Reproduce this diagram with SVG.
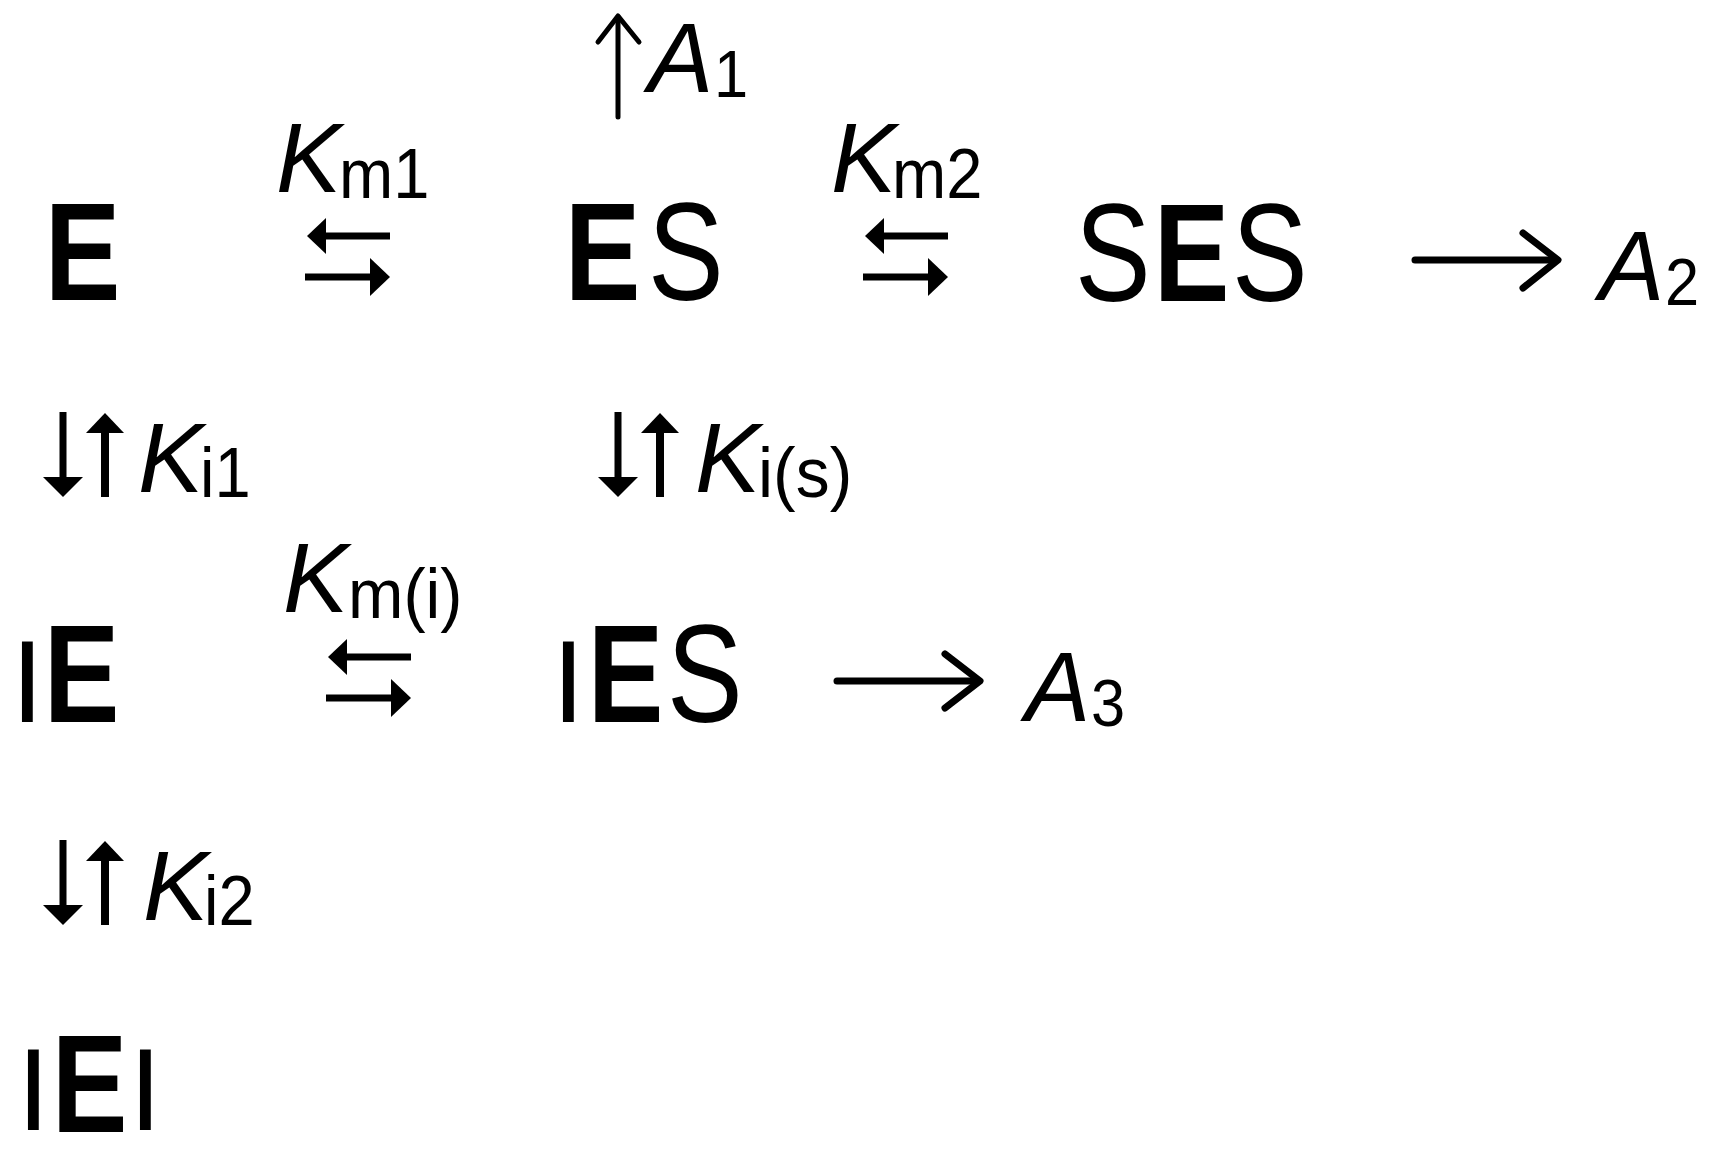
<svg xmlns="http://www.w3.org/2000/svg" xmlns:xlink="http://www.w3.org/1999/xlink" width="1714" height="1157" viewBox="0 0 1714 1157">
<style>
.bE{font-family:"Liberation Sans",Arial,sans-serif;font-weight:bold;font-size:140px;fill:#000}
.rS{font-family:"Liberation Sans",Arial,sans-serif;font-size:140px;fill:#000}
.rI{font-family:"Liberation Sans",Arial,sans-serif;font-size:116px;fill:#000}
.lab{font-family:"Liberation Sans",Arial,sans-serif;font-style:italic;font-size:98px;fill:#000}
.sub{font-family:"Liberation Sans",Arial,sans-serif;font-size:70px;fill:#000}
.sub2{font-family:"Liberation Sans",Arial,sans-serif;font-size:66px;fill:#000}
.open{fill:none;stroke:#000;stroke-width:7;stroke-linecap:round;stroke-linejoin:round}
.thin{fill:none;stroke:#000;stroke-width:5;stroke-linecap:round;stroke-linejoin:round}
</style>
<defs>
<g id="eq">
<rect x="16" y="-3.5" width="67" height="7" fill="#000"/>
<polygon points="0,0 19,-18 19,18" fill="#000"/>
<rect x="-2" y="37.5" width="67" height="7" fill="#000"/>
<polygon points="83,41 63,22 63,60" fill="#000"/>
</g>
<g id="vud">
<rect x="-3.5" y="0" width="7" height="67" fill="#000"/>
<polygon points="-20,65 20,65 0,85" fill="#000"/>
<rect x="38" y="19" width="8" height="66" fill="#000"/>
<polygon points="42,1 23,21 61,21" fill="#000"/>
</g>
</defs>
<rect width="1714" height="1157" fill="#fff"/>

<g id="node-E">
<text class="bE" transform="translate(44.7,300) scale(0.81,1)">E</text>
</g>
<g id="node-ES">
<text class="bE" transform="translate(564.7,300) scale(0.81,1)">E</text>
<text class="rS" transform="translate(648,300) scale(0.81,1)">S</text>
</g>
<g id="node-SES">
<text class="rS" transform="translate(1075,301) scale(0.81,1)">S</text>
<text class="bE" transform="translate(1153.7,301) scale(0.81,1)">E</text>
<text class="rS" transform="translate(1232,301) scale(0.81,1)">S</text>
</g>
<g id="node-A1">
<text class="lab" x="648" y="92">A</text>
<text class="sub2" transform="translate(714,97) scale(0.93,1)">1</text>
</g>
<g id="node-A2">
<text class="lab" x="1599" y="300">A</text>
<text class="sub2" transform="translate(1665,305) scale(0.93,1)">2</text>
</g>
<g id="node-IE">
<text class="rI" x="11.2" y="722">I</text>
<text class="bE" transform="translate(43.7,722) scale(0.81,1)">E</text>
</g>
<g id="node-IES">
<text class="rI" x="552.2" y="722">I</text>
<text class="bE" transform="translate(587.7,722) scale(0.81,1)">E</text>
<text class="rS" transform="translate(667,722) scale(0.81,1)">S</text>
</g>
<g id="node-A3">
<text class="lab" x="1025" y="721">A</text>
<text class="sub2" transform="translate(1091,726) scale(0.93,1)">3</text>
</g>
<g id="node-IEI">
<text class="rI" x="17.2" y="1130">I</text>
<text class="bE" transform="translate(51.7,1132) scale(0.81,1)">E</text>
<text class="rI" x="129.2" y="1130">I</text>
</g>

<g id="connectors">
<use xlink:href="#eq" href="#eq" transform="translate(307,236)"/>
<use xlink:href="#eq" href="#eq" transform="translate(865,236)"/>
<use xlink:href="#eq" href="#eq" transform="translate(328,657)"/>
<use xlink:href="#vud" href="#vud" transform="translate(63,412)"/>
<use xlink:href="#vud" href="#vud" transform="translate(618,412)"/>
<use xlink:href="#vud" href="#vud" transform="translate(63,840)"/>
<g class="thin">
<line x1="618" y1="117" x2="618" y2="17"/>
<polyline points="598,42 618,16 639,42"/>
</g>
<g class="open">
<line x1="1415" y1="260" x2="1556" y2="260"/>
<polyline points="1523,233 1558,260 1523,288"/>
<line x1="837" y1="681" x2="978" y2="681"/>
<polyline points="945,654 980,681 945,708"/>
</g>
</g>

<g id="labels">
<text class="lab" x="276" y="192">K</text>
<text class="sub" transform="translate(339,198) scale(0.93,1)">m1</text>
<text class="lab" x="831" y="192">K</text>
<text class="sub" transform="translate(892,198) scale(0.93,1)">m2</text>
<text class="lab" x="283" y="612">K</text>
<text class="sub" transform="translate(348,618) scale(0.95,1)">m(i)</text>
<text class="lab" x="138" y="492">K</text>
<text class="sub" transform="translate(200,497) scale(0.93,1)">i1</text>
<text class="lab" x="695" y="492">K</text>
<text class="sub" transform="translate(758,497) scale(0.97,1)">i(s)</text>
<text class="lab" x="143" y="920">K</text>
<text class="sub" transform="translate(204,925) scale(0.93,1)">i2</text>
</g>
</svg>
